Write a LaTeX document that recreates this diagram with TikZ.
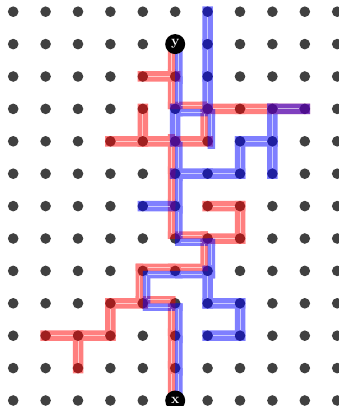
\documentclass[tikz,border=0pt]{standalone}
\usetikzlibrary{calc}
\definecolor{dotgray}{HTML}{404040}
\tikzset{
  dotnode/.style={circle, fill=dotgray, inner sep=0pt, minimum size=10.6pt},
  endnode/.style={circle, fill=black, inner sep=0pt, minimum size=20pt, text=white, font=\fontsize{14}{14}\selectfont\bfseries},
  lone/.style={line width=10.5pt, line cap=rect},
  half/.style={line width=7.5pt, line cap=rect},
  shine/.style={white, opacity=0.6, line width=1pt, shorten >=5.5pt, shorten <=5.5pt},
  rsh/.style={shift={(-3.5,3.5)}},
  bsh/.style={shift={(3.7,-3.7)}},
  rshx/.style={shift={(-3.5,0)}},
  rshy/.style={shift={(0,3.5)}},
  bshx/.style={shift={(3.7,0)}},
  bshy/.style={shift={(0,-3.7)}},
}
\begin{document}
\begin{tikzpicture}[x=1pt,y=1pt]
\useasboundingbox (0,0) rectangle (339,-406);
\fill[white] (0,0) rectangle (339,-406);
\foreach \i in {0,...,10}{\foreach \j in {0,...,12}{
  \coordinate (p-\i-\j) at ({13.2+32.4*\i},{-11.7-32.4*\j});
  \node[dotnode] (d-\i-\j) at (p-\i-\j) {};
}}
% red
\begin{scope}[transparency group, opacity=0.5]
  \foreach \a/\b in {4-2/5-2, 6-3/7-3, 7-3/8-3, 8-3/9-3, 4-3/4-4, 3-4/4-4, 4-4/5-4, 5-4/6-4, 6-7/7-7, 7-6/7-7, 6-6/7-6, 3-9/4-9, 3-9/3-10, 1-10/2-10, 2-10/3-10, 2-10/2-11}
    \draw[red, lone] (p-\a) -- (p-\b);
  \foreach \a/\b in {5-1/5-2, 5-2/5-3, 5-3/6-3, 6-3/6-4, 5-4/5-5, 5-5/5-6, 5-6/5-7, 5-7/6-7, 6-7/6-8, 5-8/6-8, 4-8/5-8, 4-8/4-9, 4-9/5-9, 5-9/5-10, 5-10/5-11, 5-11/5-12}
    \draw[red, half] ([rsh]p-\a) -- ([rsh]p-\b);
\end{scope}
% blue
\begin{scope}[transparency group, opacity=0.5]
  \foreach \a/\b in {6-0/6-1, 6-1/6-2, 6-2/6-3, 5-3/5-4, 8-3/9-3, 8-3/8-4, 8-4/8-5, 7-4/8-4, 7-4/7-5, 5-5/6-5, 6-5/7-5, 4-6/5-6, 6-8/6-9, 6-9/7-9, 7-9/7-10, 6-10/7-10}
    \draw[blue, lone] (p-\a) -- (p-\b);
  \foreach \a/\b in {5-1/5-2, 5-2/5-3, 5-3/6-3, 6-3/6-4, 5-4/5-5, 5-5/5-6, 5-6/5-7, 5-7/6-7, 6-7/6-8, 5-8/6-8, 4-8/5-8, 4-8/4-9, 4-9/5-9, 5-9/5-10, 5-10/5-11, 5-11/5-12}
    \draw[blue, half] ([bsh]p-\a) -- ([bsh]p-\b);
\end{scope}
% white centre lines
\foreach \a/\b in {4-2/5-2, 6-3/7-3, 7-3/8-3, 8-3/9-3, 4-3/4-4, 3-4/4-4, 4-4/5-4, 5-4/6-4, 6-7/7-7, 7-6/7-7, 6-6/7-6, 3-9/4-9, 3-9/3-10, 1-10/2-10, 2-10/3-10, 2-10/2-11, 6-0/6-1, 6-1/6-2, 6-2/6-3, 5-3/5-4, 8-3/8-4, 8-4/8-5, 7-4/8-4, 7-4/7-5, 5-5/6-5, 6-5/7-5, 4-6/5-6, 6-8/6-9, 6-9/7-9, 7-9/7-10, 6-10/7-10}
  \draw[shine] (p-\a) -- (p-\b);
\foreach \a/\b in {5-1/5-2, 5-2/5-3, 6-3/6-4, 5-4/5-5, 5-5/5-6, 5-6/5-7, 6-7/6-8, 4-8/4-9, 5-9/5-10, 5-10/5-11, 5-11/5-12}{
  \draw[shine] ([rshx]p-\a) -- ([rshx]p-\b);
  \draw[shine] ([bshx]p-\a) -- ([bshx]p-\b);
}
\foreach \a/\b in {5-3/6-3, 5-7/6-7, 5-8/6-8, 4-8/5-8, 4-9/5-9}{
  \draw[shine] ([rshy]p-\a) -- ([rshy]p-\b);
  \draw[shine] ([bshy]p-\a) -- ([bshy]p-\b);
}
\node[endnode] (y) at (p-5-1) {y};
\node[endnode] (x) at (p-5-12) {x};
\end{tikzpicture}
\end{document}
